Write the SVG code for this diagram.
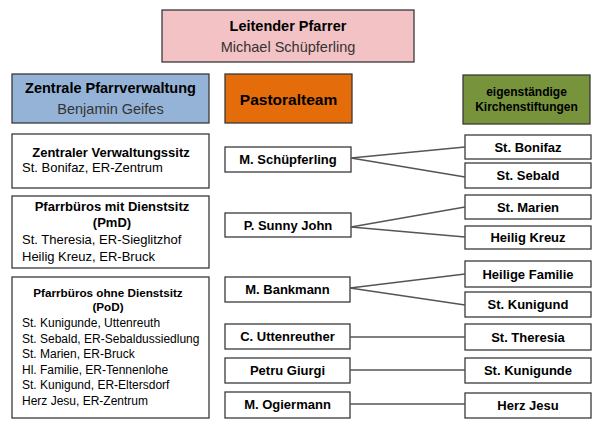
<svg xmlns="http://www.w3.org/2000/svg" width="602" height="432" viewBox="0 0 602 432">
<style>
  text { font-family: "Liberation Sans", Arial, sans-serif; fill: #000; }
  .b { font-weight: bold; }
  .box { fill: #fff; stroke: #3a3a3a; stroke-width: 1.3; }
  .hdr { stroke: #3a3a3a; stroke-width: 1.3; }
  .c { text-anchor: middle; }
  .f13 { font-size: 13px; }
  .f12 { font-size: 12px; }
  .f145 { font-size: 14.5px; }
  .sub { fill: #333; }
  .conn line { stroke: #555; stroke-width: 1.3; }
</style>
<rect width="602" height="432" fill="#fff"/>

<g id="leitender">
  <rect class="hdr" x="162" y="10" width="252" height="52" fill="#F3C2C5"/>
  <text class="b c f145" x="288" y="31">Leitender Pfarrer</text>
  <text class="c f145 sub" x="288" y="52">Michael Schüpferling</text>
</g>

<g id="zentrale">
  <rect class="hdr" x="12" y="74" width="197" height="49" fill="#95B3D7"/>
  <text class="b c f145" x="110.5" y="93">Zentrale Pfarrverwaltung</text>
  <text class="c f145 sub" x="110.5" y="114">Benjamin Geifes</text>
</g>

<g id="pastoralteam">
  <rect class="hdr" x="225" y="74" width="127" height="49" fill="#E46C0A"/>
  <text class="b c" style="font-size:15.5px" x="288.5" y="105">Pastoralteam</text>
</g>

<g id="kirchenstiftungen">
  <rect class="hdr" x="463" y="75" width="127" height="49" fill="#77933C"/>
  <text class="b c f12" x="526.5" y="96">eigenständige</text>
  <text class="b c f12" x="526.5" y="111">Kirchenstiftungen</text>
</g>

<g id="verwaltungssitz">
  <rect class="box" x="12" y="134" width="197" height="54"/>
  <text class="b c f13" x="111" y="157">Zentraler Verwaltungssitz</text>
  <text class="f13" x="22" y="172">St. Bonifaz, ER-Zentrum</text>
</g>

<g id="pmd">
  <rect class="box" x="12" y="196" width="197" height="72"/>
  <text class="b c f13" x="112" y="211">Pfarrbüros mit Dienstsitz</text>
  <text class="b c f13" x="112" y="227">(PmD)</text>
  <text class="f13" x="22" y="244">St. Theresia, ER-Sieglitzhof</text>
  <text class="f13" x="22" y="261">Heilig Kreuz, ER-Bruck</text>
</g>

<g id="pod">
  <rect class="box" x="12" y="277" width="197" height="141"/>
  <text class="b c" style="font-size:11.7px" x="108" y="297">Pfarrbüros ohne Dienstsitz</text>
  <text class="b c" style="font-size:11.7px" x="108" y="311">(PoD)</text>
  <text class="f12" x="22" y="327">St. Kunigunde, Uttenreuth</text>
  <text class="f12" x="22" y="343">St. Sebald, ER-Sebaldussiedlung</text>
  <text class="f12" x="22" y="358">St. Marien, ER-Bruck</text>
  <text class="f12" x="22" y="374">Hl. Familie, ER-Tennenlohe</text>
  <text class="f12" x="22" y="389">St. Kunigund, ER-Eltersdorf</text>
  <text class="f12" x="22" y="405">Herz Jesu, ER-Zentrum</text>
</g>

<g id="schuepferling">
  <rect class="box" x="225" y="147" width="126" height="25"/>
  <text class="b c f13" x="288" y="164">M. Schüpferling</text>
</g>
<g id="sunnyjohn">
  <rect class="box" x="225" y="213" width="126" height="24"/>
  <text class="b c f13" x="288" y="229.5">P. Sunny John</text>
</g>
<g id="bankmann">
  <rect class="box" x="225" y="277" width="125" height="25"/>
  <text class="b c f13" x="287.5" y="294">M. Bankmann</text>
</g>
<g id="uttenreuther">
  <rect class="box" x="225" y="324" width="125" height="25"/>
  <text class="b c f13" x="287.5" y="341">C. Uttenreuther</text>
</g>
<g id="giurgi">
  <rect class="box" x="225" y="358" width="125" height="25"/>
  <text class="b c f13" x="287.5" y="375">Petru Giurgi</text>
</g>
<g id="ogiermann">
  <rect class="box" x="225" y="392" width="125" height="26"/>
  <text class="b c f13" x="287.5" y="409">M. Ogiermann</text>
</g>

<g id="bonifaz">
  <rect class="box" x="465" y="135" width="126" height="24"/>
  <text class="b c f13" x="528" y="151.5">St. Bonifaz</text>
</g>
<g id="sebald">
  <rect class="box" x="465" y="163" width="126" height="25"/>
  <text class="b c f13" x="528" y="180">St. Sebald</text>
</g>
<g id="marien">
  <rect class="box" x="465" y="195" width="126" height="24"/>
  <text class="b c f13" x="528" y="211.5">St. Marien</text>
</g>
<g id="heiligkreuz">
  <rect class="box" x="465" y="226" width="126" height="23"/>
  <text class="b c f13" x="528" y="242">Heilig Kreuz</text>
</g>
<g id="heiligefamilie">
  <rect class="box" x="465" y="261" width="126" height="26"/>
  <text class="b c f13" x="528" y="278.5">Heilige Familie</text>
</g>
<g id="kunigund">
  <rect class="box" x="465" y="292" width="126" height="25"/>
  <text class="b c f13" x="528" y="309">St. Kunigund</text>
</g>
<g id="theresia">
  <rect class="box" x="465" y="324" width="126" height="26"/>
  <text class="b c f13" x="528" y="341.5">St. Theresia</text>
</g>
<g id="kunigunde">
  <rect class="box" x="465" y="358" width="126" height="25"/>
  <text class="b c f13" x="528" y="375">St. Kunigunde</text>
</g>
<g id="herzjesu">
  <rect class="box" x="465" y="393" width="126" height="25"/>
  <text class="b c f13" x="528" y="410">Herz Jesu</text>
</g>

<g id="connectors" class="conn">
  <line x1="351" y1="158" x2="465" y2="147"/>
  <line x1="351" y1="158" x2="465" y2="177"/>
  <line x1="351" y1="227" x2="465" y2="207"/>
  <line x1="351" y1="227" x2="465" y2="237"/>
  <line x1="350" y1="288" x2="465" y2="274"/>
  <line x1="350" y1="288" x2="465" y2="305"/>
  <line x1="350" y1="337" x2="465" y2="337"/>
  <line x1="350" y1="370" x2="465" y2="370"/>
  <line x1="350" y1="404" x2="465" y2="404"/>
</g>
</svg>
